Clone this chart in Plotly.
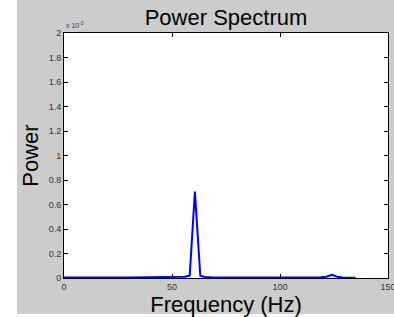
import plotly.graph_objects as go

freq = [0, 4, 8, 12, 16, 20, 25, 30, 35, 40, 45, 50, 53.5, 56, 58.2, 60.6, 63.1, 65.3, 68,
        72, 76, 80, 85, 90, 95, 100, 105, 110, 115, 119, 121.5, 124, 126.5, 129, 132, 135]
power_e3 = [0.004, 0.003, 0.005, 0.006, 0.004, 0.003, 0.004, 0.005, 0.006, 0.004, 0.003,
            0.004, 0.006, 0.01, 0.02, 0.705, 0.018, 0.009, 0.006, 0.004, 0.003, 0.005,
            0.004, 0.003, 0.004, 0.003, 0.004, 0.005, 0.004, 0.006, 0.01, 0.026, 0.01,
            0.005, 0.004, 0.003]
power = [v * 1e-3 for v in power_e3]

xticks = [0, 50, 100, 150]
yticks_e3 = [0, 0.2, 0.4, 0.6, 0.8, 1, 1.2, 1.4, 1.6, 1.8, 2]
ytick_text = ["0", "0.2", "0.4", "0.6", "0.8", "1", "1.2", "1.4", "1.6", "1.8", "2"]

W, H = 394, 317
L, R, T, B = 64, 6, 33, 39
pw, ph = W - L - R, H - T - B

fig = go.Figure()
fig.add_trace(go.Scatter(x=freq, y=power, mode="lines",
                         line=dict(color="rgb(0,0,255)", width=2), hoverinfo="skip"))

# white strips outside the gray MATLAB figure area
fig.add_shape(type="rect", xref="paper", yref="paper", layer="below",
              x0=-L / pw, x1=(17 - L) / pw, y0=-B / ph, y1=(H - B) / ph,
              fillcolor="white", line=dict(width=0))
fig.add_shape(type="rect", xref="paper", yref="paper", layer="below",
              x0=-L / pw, x1=(W - L) / pw, y0=-B / ph, y1=(H - B - 314) / ph,
              fillcolor="white", line=dict(width=0))

font = "Liberation Sans, Arial, sans-serif"
axis_common = dict(showgrid=False, zeroline=False, ticks="inside", ticklen=4,
                   tickcolor="black", showline=True, linecolor="black", linewidth=1,
                   mirror="ticks", ticklabeloverflow="allow",
                   tickfont=dict(family=font, size=9, color="#333"))

fig.update_layout(
    width=W, height=H, margin=dict(l=L, r=R, t=T, b=B, autoexpand=False),
    paper_bgcolor="rgb(204,204,204)", plot_bgcolor="white", showlegend=False,
    title=dict(text="Power Spectrum", x=(L + pw / 2) / W, xanchor="center",
               y=1 - 17 / H, yanchor="middle",
               font=dict(family=font, size=22, color="black")),
    xaxis=dict(range=[0, 150], tickvals=xticks,
               title=dict(text="Frequency (Hz)", standoff=2,
                          font=dict(family=font, size=22, color="black")),
               **axis_common),
    yaxis=dict(range=[0, 0.002], tickvals=[v * 1e-3 for v in yticks_e3], ticktext=ytick_text,
               title=dict(text="Power", standoff=3,
                          font=dict(family=font, size=22, color="black")),
               **axis_common),
)
fig.add_annotation(text="x 10<sup>-3</sup>", xref="paper", yref="paper", x=0, y=1,
                   xanchor="left", yanchor="bottom", showarrow=False,
                   font=dict(family=font, size=7, color="#333"), yshift=2)

fig.write_html("out.html", config={"displayModeBar": False},
               post_script="document.body.style.margin='0';document.body.style.overflow='hidden';")
